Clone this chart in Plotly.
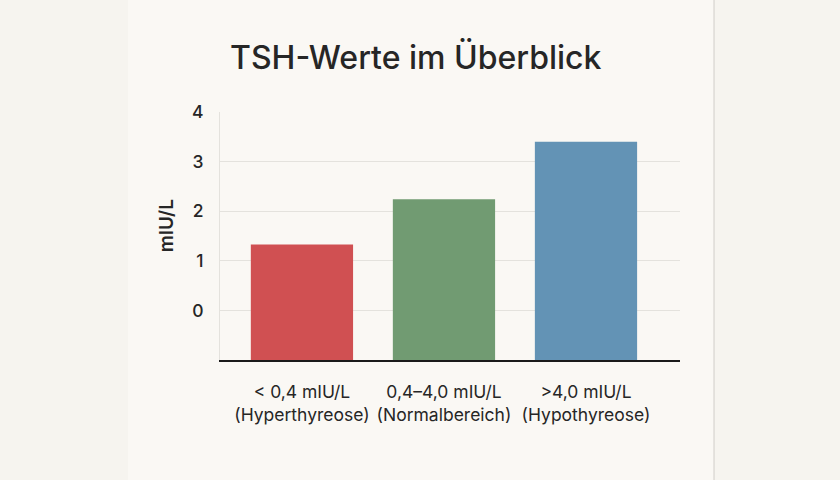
import plotly.graph_objects as go

# TSH-Bereiche und dargestellte Werte (mIU/L)
categories = ["< 0,4 mIU/L<br>(Hyperthyreose)",
              "0,4–4,0 mIU/L<br>(Normalbereich)",
              ">4,0 mIU/L<br>(Hypothyreose)"]
values = [1.33, 2.24, 3.40]
bar_colors = ["#d05052", "#719b72", "#6393b5"]
y_ticks = [0, 1, 2, 3, 4]
y_floor = -1

positions = list(range(len(categories)))

fig = go.Figure()
fig.add_trace(go.Bar(
    x=positions,
    y=[v - y_floor for v in values],
    base=y_floor,
    width=0.72,
    marker=dict(color=bar_colors, line=dict(width=0)),
    hoverinfo="skip",
))

# card behind the chart
fig.add_shape(type="rect", xref="paper", yref="paper",
              x0=-0.2, x1=1.074, y0=-0.5, y1=1.5,
              fillcolor="#faf8f4", line=dict(width=0), layer="below")
fig.add_shape(type="line", xref="paper", yref="paper",
              x0=1.074, x1=1.074, y0=-0.5, y1=1.5,
              line=dict(color="#dddbd6", width=1.5), layer="below")

fig.add_annotation(text="TSH-Werte im Überblick", xref="paper", yref="paper",
                   x=0.426, y=1.218, xanchor="center", yanchor="middle",
                   showarrow=False,
                   font=dict(size=32, color="#262626", weight=500))
fig.add_annotation(text="mIU/L", xref="paper", yref="paper",
                   x=-0.117, y=0.54, xanchor="center", yanchor="middle",
                   textangle=-90, showarrow=False,
                   font=dict(size=19, color="#262626", weight=600))

fig.update_layout(
    width=840, height=480,
    margin=dict(l=220, r=160, t=112, b=120),
    paper_bgcolor="#f6f4ef",
    plot_bgcolor="rgba(0,0,0,0)",
    font=dict(family="Inter, Roboto, sans-serif", color="#262626"),
    showlegend=False,
    xaxis=dict(
        range=[-0.577, 2.662],
        tickvals=positions, ticktext=categories,
        tickfont=dict(size=17.5, weight=400),
        showgrid=False, zeroline=False,
        showline=True, linecolor="#1a1a1a", linewidth=1.5,
        ticks="outside", ticklen=15, tickcolor="rgba(0,0,0,0)",
    ),
    yaxis=dict(
        range=[y_floor, 4],
        tickvals=y_ticks,
        tickfont=dict(size=17.5, weight=500),
        showgrid=True, gridcolor="#e4e2dd", gridwidth=1,
        zeroline=False,
        showline=True, linecolor="#e4e2dd", linewidth=1,
        ticks="outside", ticklen=12, tickcolor="rgba(0,0,0,0)",
    ),
)

fig.write_html("out.html", config={"displayModeBar": False},
               post_script="document.body.style.margin='0';"
                           "document.body.style.background='#f6f4ef';")
